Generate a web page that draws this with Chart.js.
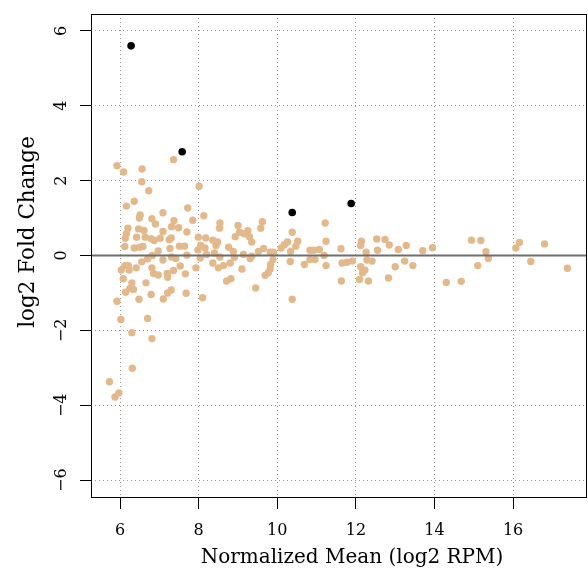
<!DOCTYPE html>
<html>
<head>
<meta charset="utf-8">
<script src="https://cdn.jsdelivr.net/npm/chart.js@4"></script>
<style>
html,body{margin:0;padding:0;background:#fff;}
#wrap{width:588px;height:569px;}
</style>
</head>
<body>
<div id="wrap"><canvas id="c" width="588" height="569"></canvas></div>
<script>
// ---- data ----
const meanAll = [5.92,6.09,6.56,7.36,6.55,8.01,6.73,6.36,6.16,7.72,7.09,6.51,8.13,6.49,6.81,7.37,7.85,6.90,6.20,6.47,6.61,7.31,7.49,7.09,7.70,6.16,6.13,6.42,6.64,6.79,6.87,7.02,7.25,7.30,7.99,8.18,8.36,6.12,6.36,6.50,6.58,6.97,7.27,7.51,7.64,7.98,8.05,8.16,8.44,6.82,6.70,7.09,7.31,7.42,7.70,8.04,8.20,6.55,6.12,6.21,6.41,6.81,7.53,7.93,6.03,6.23,6.08,6.85,6.97,7.20,7.36,7.21,7.66,6.66,6.30,6.25,6.34,6.14,7.30,7.21,6.79,7.68,6.48,7.10,5.92,8.10,6.02,6.70,6.30,6.81,6.31,5.73,5.97,5.87,8.54,8.53,9.00,9.62,9.58,9.04,8.93,9.16,9.25,9.29,9.35,8.48,8.40,8.54,8.76,8.88,8.91,9.14,9.31,9.35,9.52,9.65,9.82,9.90,9.89,9.83,9.82,9.77,9.69,8.36,8.63,8.80,8.50,9.10,8.82,8.71,9.45,10.38,10.52,10.26,10.18,10.10,10.34,10.47,10.33,10.69,10.83,10.93,11.07,10.83,10.96,11.22,11.24,11.19,11.24,10.38,11.62,11.63,11.65,11.77,11.91,12.14,12.12,12.26,12.28,12.41,12.12,12.23,12.17,12.09,12.32,12.53,12.55,12.74,12.85,13.08,13.28,13.24,13.00,13.45,12.83,13.70,13.95,14.30,14.94,15.18,15.31,15.37,15.10,14.68,16.16,16.07,16.80,16.45,17.38];
const lfcAll = [2.40,2.23,2.31,2.56,1.97,1.85,1.73,1.45,1.32,1.27,1.14,1.08,1.06,1.00,0.98,0.93,0.94,0.84,0.73,0.71,0.67,0.77,0.74,0.64,0.63,0.58,0.46,0.49,0.49,0.45,0.40,0.46,0.42,0.47,0.49,0.47,0.41,0.24,0.20,0.22,0.24,0.12,0.19,0.25,0.25,0.15,0.27,0.20,0.27,0.00,-0.09,-0.12,-0.04,-0.08,0.01,-0.07,0.03,-0.17,-0.27,-0.27,-0.33,-0.33,-0.28,-0.33,-0.39,-0.39,-0.62,-0.48,-0.52,-0.48,-0.40,-0.58,-0.49,-0.73,-0.73,-0.88,-0.91,-0.98,-0.92,-1.00,-1.04,-1.01,-1.17,-1.16,-1.22,-1.13,-1.71,-1.68,-2.06,-2.22,-3.01,-3.37,-3.67,-3.78,0.87,0.73,0.80,0.90,0.73,0.62,0.50,0.58,0.66,0.50,0.36,0.36,0.07,-0.04,0.22,0.11,-0.05,0.03,-0.08,-0.02,0.11,0.19,0.09,0.09,-0.11,-0.24,-0.36,-0.46,-0.53,-0.20,-0.27,-0.20,-0.33,-0.36,-0.62,-0.68,-0.87,0.62,0.38,0.36,0.29,0.20,0.11,0.25,-0.16,-0.24,0.14,0.14,0.16,-0.11,-0.11,0.87,0.38,0.00,-0.27,-1.17,0.18,-0.68,-0.20,-0.18,-0.15,0.38,0.27,0.09,-0.12,-0.15,-0.30,-0.39,-0.46,-0.64,-0.68,0.44,0.14,0.43,0.28,0.16,0.27,-0.15,-0.30,-0.27,-0.60,0.13,0.21,-0.72,0.41,0.40,0.10,-0.08,-0.27,-0.69,0.35,0.20,0.31,-0.16,-0.34];
const meanSig = [6.28,7.58,10.38,11.88];
const lfcSig  = [5.60,2.77,1.15,1.39];
const xTicks = [6,8,10,12,14,16];
const yTicks = [-6,-4,-2,0,2,4,6];
const xRange = [5.26,17.88];
const yRange = [-6.45,6.45];
const xTitle = 'Normalized Mean (log2 RPM)';
const yTitle = 'log2 Fold Change';

const SERIF = "'DejaVu Serif', serif";

const boxPlugin = {
  id:'box',
  afterDatasetsDraw(chart){
    const {ctx, chartArea:a, scales:{y}} = chart;
    ctx.save();
    const y0 = y.getPixelForValue(0);
    ctx.strokeStyle = '#6e6e6e';
    ctx.lineWidth = 2;
    ctx.beginPath(); ctx.moveTo(a.left, y0); ctx.lineTo(a.right, y0); ctx.stroke();
    ctx.strokeStyle = '#000';
    ctx.lineWidth = 1;
    ctx.strokeRect(Math.round(a.left)+0.5, Math.round(a.top)+0.5, Math.round(a.right-a.left)-1, Math.round(a.bottom-a.top));
    ctx.restore();
  },
  afterDraw(chart){
    const {ctx} = chart;
    ctx.save();
    ctx.fillStyle = '#000';
    ctx.textAlign = 'center';
    ctx.textBaseline = 'alphabetic';
    ctx.font = "20px " + SERIF;
    ctx.fillText(xTitle, 352, 563);
    ctx.font = "21.5px " + SERIF;
    ctx.translate(34, 232);
    ctx.rotate(-Math.PI/2);
    ctx.fillText(yTitle, 0, 0);
    ctx.restore();
  }
};

new Chart(document.getElementById('c'), {
  type:'scatter',
  data:{
    datasets:[
      {data: meanAll.map((m,i)=>({x:m,y:lfcAll[i]})), backgroundColor:'#E3B98C', borderWidth:0, pointRadius:3.7},
      {data: meanSig.map((m,i)=>({x:m,y:lfcSig[i]})), backgroundColor:'#000', borderWidth:0, pointRadius:3.8}
    ]
  },
  options:{
    responsive:false, animation:false, devicePixelRatio:1,
    layout:{autoPadding:false, padding:{top:14,right:1,left:0,bottom:0}},
    plugins:{legend:{display:false}, tooltip:{enabled:false}},
    scales:{
      x:{
        type:'linear', min:xRange[0], max:xRange[1],
        afterBuildTicks: s => { s.ticks = xTicks.map(v=>({value:v})); },
        afterFit: s => { s.height = 72; s.paddingLeft = 0; s.paddingRight = 0; },
        border:{display:false, dash:[1,3]},
        grid:{color:'#9a9a9a', lineWidth:1, drawTicks:true, tickLength:12, tickColor:'#000', tickBorderDash:[], tickWidth:1},
        ticks:{color:'#000', font:{family:SERIF, size:16}, padding:12, maxRotation:0}
      },
      y:{
        type:'linear', min:yRange[0], max:yRange[1],
        afterBuildTicks: s => { s.ticks = yTicks.map(v=>({value:v})); },
        afterFit: s => { s.width = 91; s.paddingTop = 0; s.paddingBottom = 0; },
        border:{display:false, dash:[1,3]},
        grid:{color:'#9a9a9a', lineWidth:1, drawTicks:true, tickLength:11, tickColor:'#000', tickBorderDash:[], tickWidth:1},
        ticks:{color:'#000', font:{family:SERIF, size:16}, padding:6, minRotation:90, maxRotation:90, crossAlign:'center',
               callback: v => String(v).replace('-', '\u2212')}
      }
    }
  },
  plugins:[boxPlugin]
});
</script>
</body>
</html>
